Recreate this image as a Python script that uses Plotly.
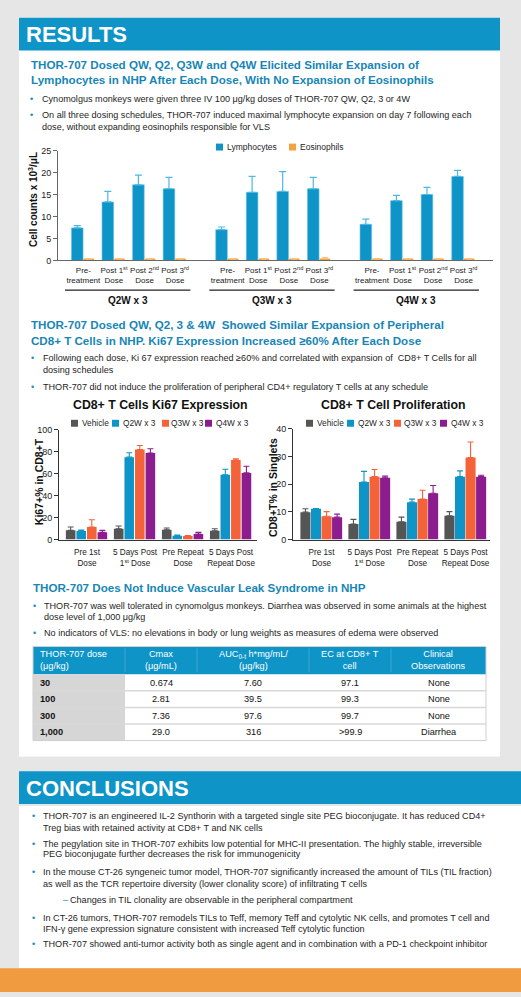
import plotly.graph_objects as go

W, H = 521, 997
FONT = "Liberation Sans, Arial, sans-serif"
HEAD = "Liberation Sans, Arial, sans-serif"

# ---------------- Data: lymphocyte / eosinophil chart ----------------
schedules = ["Q2W x 3", "Q3W x 3", "Q4W x 3"]
timepoints = ["Pre-<br>treatment", "Post 1<sup>st</sup><br>Dose",
              "Post 2<sup>nd</sup><br>Dose", "Post 3<sup>rd</sup><br>Dose"]
cell_series = ["Lymphocytes", "Eosinophils"]
lymph_mean = [7.4, 13.3, 17.2, 16.3, 7.0, 15.5, 15.7, 16.3, 8.2, 13.6, 15.0, 19.1]
lymph_err = [0.5, 2.4, 2.2, 2.6, 0.6, 3.6, 4.5, 2.6, 1.2, 1.2, 1.6, 1.4]
eos_mean = [0.3, 0.3, 0.3, 0.3, 0.3, 0.3, 0.3, 0.4, 0.3, 0.3, 0.3, 0.3]
eos_err = [0.05, 0.05, 0.05, 0.05, 0.05, 0.05, 0.05, 0.3, 0.05, 0.05, 0.05, 0.05]

# ---------------- Data: Ki67 and proliferation charts ----------------
cd8_cats = ["Pre 1st<br>Dose", "5 Days Post<br>1<sup>st</sup> Dose",
            "Pre Repeat<br>Dose", "5 Days Post<br>Repeat Dose"]
dose_groups = ["Vehicle", "Q2W x 3", "Q3W x 3", "Q4W x 3"]
ki67_vehicle = [8.4, 9.9, 9.0, 8.1]
ki67_q2w = [7.8, 75.0, 3.6, 59.0]
ki67_q3w = [11.4, 82.0, 3.3, 72.4]
ki67_q4w = [6.6, 78.7, 5.1, 60.7]
ki67_vehicle_err = [3.0, 2.4, 1.5, 1.8]
ki67_q2w_err = [0.9, 4.0, 0.6, 5.0]
ki67_q3w_err = [6.6, 3.6, 0.3, 1.2]
ki67_q4w_err = [1.8, 3.9, 1.5, 6.0]

prol_vehicle = [9.9, 5.6, 6.4, 8.6]
prol_q2w = [11.1, 20.8, 13.5, 22.7]
prol_q3w = [8.4, 22.7, 14.6, 29.6]
prol_q4w = [8.1, 22.3, 16.7, 22.7]
prol_vehicle_err = [1.2, 1.7, 1.7, 1.5]
prol_q2w_err = [0.1, 3.8, 1.1, 2.1]
prol_q3w_err = [1.7, 2.6, 3.2, 5.6]
prol_q4w_err = [1.1, 0.6, 2.8, 0.5]

# ---------------- Data: table ----------------
table_header = ["THOR-707 dose<br>(μg/kg)", "Cmax<br>(μg/mL)",
                "AUC<sub>0-t</sub> h*mg/mL/<br>(μg/kg)", "EC at CD8+ T<br>cell",
                "Clinical<br>Observations"]
dose_col = ["30", "100", "300", "1,000"]
cmax_col = ["0.674", "2.81", "7.36", "29.0"]
auc_col = ["7.60", "39.5", "97.6", "316"]
ec_col = ["97.1", "99.3", "99.7", ">99.9"]
obs_col = ["None", "None", "None", "Diarrhea"]

# ---------------- Colours ----------------
BLUE_HDR = "#0f94c7"
HEAD_BLUE = "#1786b6"
LYMPH = "#0f94c7"
LYMPH_ERR = "#4db8e2"
EOS = "#f4a23f"
GROUP_COLORS = ["#555555", "#0f94c7", "#f4623a", "#8c1d8f"]
TXT = "#1e1e1e"
BODY = 9.1
HSIZE = 11.6


def px(x):
    return x / W


def py(y):
    return 1 - y / H


annotations = []
shapes = []


def text(x, y, s, size, color=TXT, bold=False, family=FONT, anchor="left", angle=0):
    if bold:
        s = "<b>" + s + "</b>"
    annotations.append(dict(x=px(x), y=py(y), xref="paper", yref="paper", text=s,
                            showarrow=False, xanchor=anchor, yanchor="middle",
                            align=anchor if anchor in ("left", "right") else "center",
                            textangle=angle, borderpad=0,
                            font=dict(size=size, color=color, family=family)))


def rect(x0, y0, x1, y1, color, line=None):
    shapes.append(dict(type="rect", xref="paper", yref="paper", x0=px(x0), x1=px(x1),
                       y0=py(y1), y1=py(y0), fillcolor=color,
                       line=line if line else dict(width=0), layer="below"))


def hline(x0, x1, y, color, width=1):
    shapes.append(dict(type="line", xref="paper", yref="paper", x0=px(x0), x1=px(x1),
                       y0=py(y), y1=py(y), line=dict(color=color, width=width), layer="below"))


def vline(x, y0, y1, color, width=1):
    shapes.append(dict(type="line", xref="paper", yref="paper", x0=px(x), x1=px(x),
                       y0=py(y0), y1=py(y1), line=dict(color=color, width=width), layer="below"))


# ---------------- Panels ----------------
rect(19, 13, 500, 759, "white")
rect(19, 13, 500, 46, BLUE_HDR)
rect(19, 774, 521, 807, BLUE_HDR)
rect(19, 809, 521, 973, "white")
rect(0, 973, 521, 997, "#f09b3f")

text(25, 30, "RESULTS", 22, "white", True, HEAD)
text(25, 791, "CONCLUSIONS", 22, "white", True, HEAD)


def bullets(lines, bx, tx, size=BODY):
    for y, s, is_bullet in lines:
        if is_bullet:
            text(bx, y, "•", 9, "#1a8cc0")
        text(tx, y, s, size)


# Section 1
text(30, 60, "THOR-707 Dosed QW, Q2, Q3W and Q4W Elicited Similar Expansion of", HSIZE, HEAD_BLUE, True)
text(30, 75, "Lymphocytes in NHP After Each Dose, With No Expansion of Eosinophils", HSIZE, HEAD_BLUE, True)
bullets([
    (95, "Cynomolgus monkeys were given three IV 100 μg/kg doses of THOR-707 QW, Q2, 3 or 4W", True),
    (111, "On all three dosing schedules, THOR-707 induced maximal lymphocyte expansion on day 7 following each", True),
    (123, "dose, without expanding eosinophils responsible for VLS", False),
], 29, 41)

# Section 2
text(30, 323, "THOR-707 Dosed QW, Q2, 3 &amp; 4W  Showed Similar Expansion of Peripheral", HSIZE, HEAD_BLUE, True)
text(30, 339, "CD8+ T Cells in NHP. Ki67 Expression Increased ≥60% After Each Dose", HSIZE, HEAD_BLUE, True)
bullets([
    (357, "Following each dose, Ki 67 expression reached ≥60% and correlated with expansion of  CD8+ T Cells for all", True),
    (369, "dosing schedules", False),
    (386, "THOR-707 did not induce the proliferation of peripheral CD4+ regulatory T cells at any schedule", True),
], 30, 42)
text(160, 404, "CD8+ T Cells Ki67 Expression", 12.3, "#111", True, anchor="center")
text(393, 404, "CD8+ T Cell Proliferation", 12.3, "#111", True, anchor="center")

# Section 3
text(32, 588, "THOR-707 Does Not Induce Vascular Leak Syndrome in NHP", HSIZE, HEAD_BLUE, True)
bullets([
    (607, "THOR-707 was well tolerated in cynomolgus monkeys. Diarrhea was observed in some animals at the highest", True),
    (618, "dose level of 1,000 μg/kg", False),
    (634, "No indicators of VLS: no elevations in body or lung weights as measures of edema were observed", True),
], 32, 43)

# Conclusions
bullets([
    (819, "THOR-707 is an engineered IL-2 Synthorin with a targeted single site PEG bioconjugate. It has reduced CD4+", True),
    (831, "Treg bias with retained activity at CD8+ T and NK cells", False),
    (847, "The pegylation site in THOR-707 exhibits low potential for MHC-II presentation. The highly stable, irreversible", True),
    (858, "PEG bioconjugate further decreases the risk for immunogenicity", False),
    (876, "In the mouse CT-26 syngeneic tumor model, THOR-707 significantly increased the amount of TILs (TIL fraction)", True),
    (888, "as well as the TCR repertoire diversity (lower clonality score) of infiltrating T cells", False),
    (922, "In CT-26 tumors, THOR-707 remodels TILs to Teff, memory Teff and cytolytic NK cells, and promotes T cell and", True),
    (933, "IFN-γ gene expression signature consistent with increased Teff cytolytic function", False),
    (949, "THOR-707 showed anti-tumor activity both as single agent and in combination with a PD-1 checkpoint inhibitor", True),
], 31, 42)
text(62, 904, "–", BODY, "#1a8cc0")
text(69, 904, "Changes in TIL clonality are observable in the peripheral compartment", BODY)

fig = go.Figure()

# ---------------- Chart 1 ----------------
GROUP_STEP = 4.72
xpos = [g * GROUP_STEP + j for g in range(len(schedules)) for j in range(len(timepoints))]
n = len(xpos)
fig.add_trace(go.Bar(x=xpos, y=lymph_mean, name=cell_series[0], xaxis="x", yaxis="y",
                     width=0.38, offset=-0.39, marker=dict(color=LYMPH, line=dict(color="#62c4ea", width=0.6)),
                     error_y=dict(type="data", array=lymph_err, arrayminus=[0] * n, symmetric=False,
                                  color=LYMPH_ERR, thickness=1.2, width=3.5),
                     showlegend=False))
fig.add_trace(go.Bar(x=xpos, y=eos_mean, name=cell_series[1], xaxis="x", yaxis="y",
                     width=0.34, offset=0.01, marker=dict(color=EOS, line=dict(width=0)),
                     error_y=dict(type="data", array=eos_err, arrayminus=[0] * n, symmetric=False,
                                  color="#f7c07a", thickness=1, width=3),
                     showlegend=False))

for g, sname in enumerate(schedules):
    x0 = xpos[g * 4] - 0.6
    x1 = xpos[g * 4 + 3] + 0.5
    shapes.append(dict(type="line", xref="x", yref="paper", x0=x0, x1=x1, y0=py(288), y1=py(288),
                       line=dict(color="#222", width=1.2)))
    annotations.append(dict(x=(x0 + x1) / 2, y=py(298), xref="x", yref="paper", text="<b>" + sname + "</b>",
                            showarrow=False, xanchor="center", yanchor="middle",
                            font=dict(size=10, color="#111", family=FONT)))

text(33, 197, "Cell counts x 10<sup>3</sup>/μL", 10, "#111", True, angle=-90, anchor="center")

for (sx, tx), name, col in zip([(216, 226), (289, 299)], cell_series, [LYMPH, EOS]):
    rect(sx, 140, sx + 7, 147, col)
    text(tx, 143.5, name, 8.5)

# ---------------- Chart 2 & 3 ----------------
offsets = [-0.44, -0.22, 0.0, 0.22]
ki67_vals = [ki67_vehicle, ki67_q2w, ki67_q3w, ki67_q4w]
ki67_errs = [ki67_vehicle_err, ki67_q2w_err, ki67_q3w_err, ki67_q4w_err]
prol_vals = [prol_vehicle, prol_q2w, prol_q3w, prol_q4w]
prol_errs = [prol_vehicle_err, prol_q2w_err, prol_q3w_err, prol_q4w_err]

for i, name in enumerate(dose_groups):
    col = GROUP_COLORS[i]
    fig.add_trace(go.Bar(x=cd8_cats, y=ki67_vals[i], name=name, xaxis="x2", yaxis="y2",
                         width=0.2, offset=offsets[i], marker=dict(color=col, line=dict(width=0)),
                         error_y=dict(type="data", array=ki67_errs[i], arrayminus=[0] * 4, symmetric=False,
                                      color=col, thickness=1.1, width=3),
                         showlegend=False))
    fig.add_trace(go.Bar(x=cd8_cats, y=prol_vals[i], name=name, xaxis="x3", yaxis="y3",
                         width=0.21, offset=offsets[i], marker=dict(color=col, line=dict(width=0)),
                         error_y=dict(type="data", array=prol_errs[i], arrayminus=[0] * 4, symmetric=False,
                                      color=col, thickness=1.1, width=3),
                         showlegend=False))

leg2 = [(71, 81), (112, 122), (162, 170), (205, 215)]
leg3 = [(306, 316), (347, 357), (394, 403), (440, 450)]
for i, name in enumerate(dose_groups):
    for sx, tx in (leg2[i], leg3[i]):
        rect(sx, 419, sx + 7, 426, GROUP_COLORS[i])
        text(tx, 422.5, name, 8.3)

text(39, 482, "Ki67+% in CD8+T", 10.5, "#111", True, angle=-90, anchor="center")
text(273, 488, "CD8+T% in Singlets", 10.5, "#111", True, angle=-90, anchor="center")

# ---------------- Table (drawn with shapes + annotations) ----------------
col_edges = [33, 125, 197, 309, 391, 486]
T_TOP, T_HDR = 648, 676
ROW_H = 16.75
columns = [dose_col, cmax_col, auc_col, ec_col, obs_col]
nrows = len(dose_col)
t_bot = T_HDR + ROW_H * nrows
rect(col_edges[0], T_TOP, col_edges[-1], T_HDR, BLUE_HDR)
rect(col_edges[0], T_HDR, col_edges[1], t_bot, "#d6d6d6")
for r in range(1, nrows):
    hline(col_edges[0], col_edges[-1], T_HDR + ROW_H * r, "#d8d8d8", 1.5)
for ce in col_edges[1:-1]:
    vline(ce, T_TOP + 2, T_HDR - 2, "#3ca7d4", 1)
rect(col_edges[0], T_TOP, col_edges[-1], t_bot, "rgba(0,0,0,0)", dict(color="#cfcfcf", width=1))
for c in range(len(columns)):
    left = c == 0
    cx = col_edges[c] + 6 if left else (col_edges[c] + col_edges[c + 1]) / 2
    anchor = "left" if left else "center"
    text(cx, (T_TOP + T_HDR) / 2, table_header[c], 9.2, "white", False, anchor=anchor)
    for r, val in enumerate(columns[c]):
        text(cx, T_HDR + ROW_H * (r + 0.5), val, 9.2, "#111", left, anchor=anchor)

axis_common = dict(showgrid=False, zeroline=False, showline=True, linewidth=1, tickangle=0)
tickfont_y = dict(size=9, family=FONT, color="#222")

fig.update_layout(
    width=W, height=H, autosize=False,
    margin=dict(l=0, r=0, t=0, b=0, pad=0),
    paper_bgcolor="#e6e6e6", plot_bgcolor="rgba(0,0,0,0)",
    barmode="overlay", showlegend=False,
    xaxis=dict(domain=[px(58), px(493)], range=[-0.83, 13.40], anchor="y",
               tickvals=xpos, ticktext=timepoints * len(schedules), ticks="", ticklabelstandoff=2,
               linecolor="#666", tickfont=dict(size=8, family=FONT, color="#222"), **axis_common),
    yaxis=dict(domain=[py(258), py(147)], range=[0, 25], anchor="x", dtick=5,
               ticks="outside", ticklen=4, tickcolor="#666", linecolor="#666",
               tickfont=tickfont_y, **axis_common),
    xaxis2=dict(domain=[px(59), px(257)], range=[-0.583, 3.54], anchor="y2", type="category",
                ticks="", ticklabelstandoff=5, linecolor="#333",
                tickfont=dict(size=8.2, family=FONT, color="#222"), **axis_common),
    yaxis2=dict(domain=[py(540), py(429)], range=[0, 100], anchor="x2", dtick=20,
                ticks="outside", ticklen=4, tickcolor="#333", linecolor="#333",
                tickfont=tickfont_y, **axis_common),
    xaxis3=dict(domain=[px(293), px(490)], range=[-0.594, 3.51], anchor="y3", type="category",
                ticks="", ticklabelstandoff=5, linecolor="#333",
                tickfont=dict(size=8.2, family=FONT, color="#222"), **axis_common),
    yaxis3=dict(domain=[py(540), py(428)], range=[0, 40], anchor="x3", dtick=10,
                ticks="outside", ticklen=4, tickcolor="#333", linecolor="#333",
                tickfont=tickfont_y, **axis_common),
    annotations=annotations,
    shapes=shapes,
)

post = ("document.body.style.margin='0';document.body.style.overflow='hidden';"
        "var gd=document.getElementById('{plot_id}');"
        "Plotly.relayout(gd,{width:521,height:997});")
fig.write_html("out.html", config={"responsive": False, "displayModeBar": False},
               default_width="521px", default_height="997px", post_script=post)
